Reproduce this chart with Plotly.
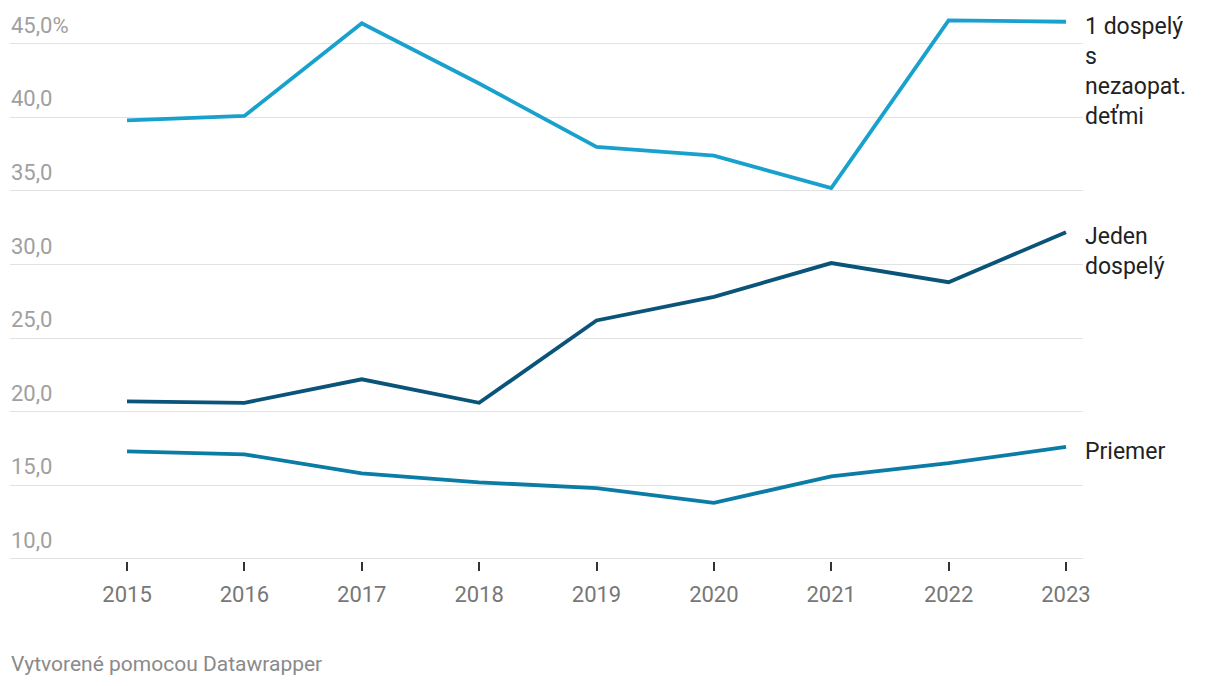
import plotly.graph_objects as go

years = [2015, 2016, 2017, 2018, 2019, 2020, 2021, 2022, 2023]
single_with_children = [39.8, 40.1, 46.4, 42.3, 38.0, 37.4, 35.2, 46.6, 46.5]
single_adult = [20.7, 20.6, 22.2, 20.6, 26.2, 27.8, 30.1, 28.8, 32.2]
average = [17.3, 17.1, 15.8, 15.2, 14.8, 13.8, 15.6, 16.5, 17.6]

series_names = ["1 dospelý<br>s<br>nezaopat.<br>deťmi", "Jeden<br>dospelý", "Priemer"]
series_values = [single_with_children, single_adult, average]
series_colors = ["#18a1cd", "#0a5479", "#0b7ca6"]

ytick_vals = [10, 15, 20, 25, 30, 35, 40, 45]
ytick_text = ["10,0", "15,0", "20,0", "25,0", "30,0", "35,0", "40,0", "45,0%"]

fig = go.Figure()
for name, vals, col in zip(series_names, series_values, series_colors):
    fig.add_trace(go.Scatter(x=years, y=vals, mode="lines",
                             line=dict(color=col, width=3.8), showlegend=False,
                             hoverinfo="skip"))
    fig.add_annotation(x=years[-1], y=vals[-1], text=name, showarrow=False,
                       xanchor="left", yanchor="top", align="left",
                       xshift=17, yshift=11,
                       font=dict(family="Roboto", size=23, color="#222222"))

for v, t in zip(ytick_vals, ytick_text):
    fig.add_annotation(x=0, y=v, xref="paper", yref="y", text=t, showarrow=False,
                       xanchor="left", yanchor="bottom", xshift=-1, yshift=4,
                       font=dict(family="Roboto", size=22, color="#a0a0a0"))

fig.add_annotation(x=0, y=0, xref="paper", yref="paper", xshift=-1, yshift=-117,
                   text="Vytvorené pomocou Datawrapper", showarrow=False,
                   xanchor="left", yanchor="bottom",
                   font=dict(family="Roboto", size=21, color="#8a8a8a"))

fig.update_layout(
    width=1212, height=678,
    margin=dict(l=2, r=137, t=2, b=125),
    paper_bgcolor="white", plot_bgcolor="white",
    font=dict(family="Roboto"),
    xaxis=dict(range=[2014.003, 2023.145], tickvals=years,
               ticktext=[str(y) for y in years],
               ticks="outside", ticklen=9, tickwidth=2, tickcolor="#333333",
               ticklabelstandoff=5,
               showgrid=False, zeroline=False, showline=False,
               tickfont=dict(size=22, color="#777777")),
    yaxis=dict(range=[9.85, 47.3], tickmode="array", tickvals=ytick_vals,
               showticklabels=False,
               showgrid=True, gridcolor="#e2e2e2", gridwidth=1.3,
               zeroline=False, showline=False, ticks=""),
)

fig.write_html("out.html")
